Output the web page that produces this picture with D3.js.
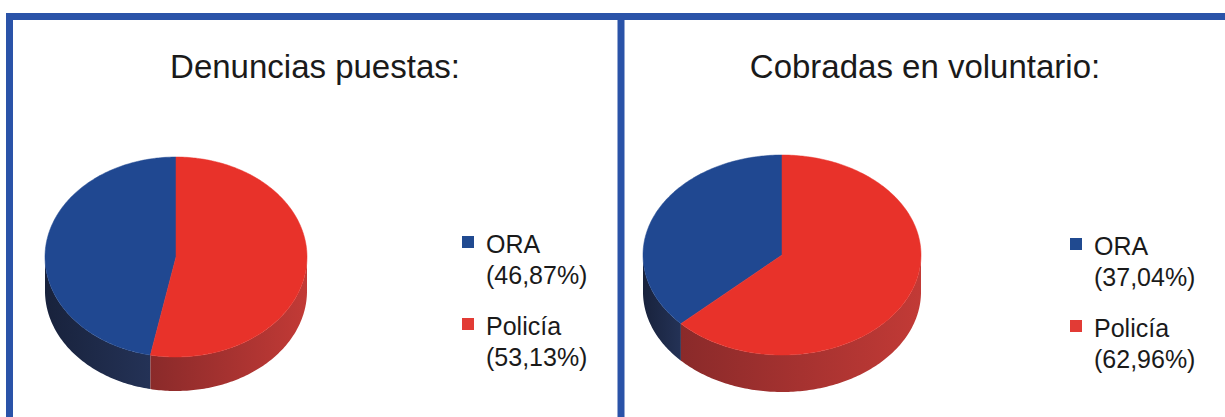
<!DOCTYPE html>
<html>
<head>
<meta charset="utf-8">
<script src="https://cdn.jsdelivr.net/npm/d3@7"></script>
<style>
  body { margin: 0; background: #fff; }
  svg { display: block; font-family: "Liberation Sans", Arial, sans-serif; }
</style>
</head>
<body>
<div id="container"></div>
<script>
// chart data
const categories = ['ORA', 'Policía'];
const titles = ['Denuncias puestas:', 'Cobradas en voluntario:'];
const denuncias = [46.87, 53.13];
const cobradas = [37.04, 62.96];
const valueLabels = [['46,87%', '53,13%'], ['37,04%', '62,96%']];

// page and pie layout
const w = 1225;
const h = 417;
const topColors = ['#204891', '#e8322a'];
const sideColors = [['#18223c', '#243256'], ['#8a2a2a', '#c23a36']];
const legendColors = ['#204a90', '#e23b35'];

const panels = [
  { values: denuncias, cx: 176, cy: 257, rx: 131, ry: 100, depth: 34, titleX: 315, legendX: 462, legendY: [236, 318] },
  { values: cobradas, cx: 782, cy: 255, rx: 139, ry: 100, depth: 37, titleX: 925, legendX: 1070, legendY: [238, 320] }
];

const svg = d3.select('#container')
  .append('svg')
  .attr('width', w)
  .attr('height', h);

// gradients for the sides
const defs = svg.append('defs');
sideColors.forEach((c, i) => {
  const g = defs.append('linearGradient')
    .attr('id', 'side' + i)
    .attr('x1', '0%').attr('x2', '100%').attr('y1', '0%').attr('y2', '0%');
  g.append('stop').attr('offset', '0%').attr('stop-color', c[0]);
  g.append('stop').attr('offset', '100%').attr('stop-color', c[1]);
});

// frame
svg.append('path')
  .attr('d', 'M9.5,430 L9.5,16.5 L1230,16.5 M621,430 L621,15')
  .attr('fill', 'none')
  .attr('stroke', '#2a53a8')
  .attr('stroke-width', 7);

const pie = d3.pie().sort(null).startAngle(0).endAngle(-2 * Math.PI);
const line = d3.line();
const TAU = 2 * Math.PI;

panels.forEach((p, pi) => {
  const g = svg.append('g');
  const pt = (a, dy = 0) => [p.cx + p.rx * Math.sin(a), p.cy - p.ry * Math.cos(a) + dy];
  const sample = (a0, a1, dy = 0) => {
    const n = Math.max(2, Math.ceil(Math.abs(a1 - a0) * 60));
    return d3.range(n + 1).map(k => pt(a0 + (a1 - a0) * k / n, dy));
  };

  const arcs = pie(p.values);

  // side walls (front half only)
  arcs.forEach((d, i) => {
    const span = Math.abs(d.endAngle - d.startAngle);
    const a0 = (Math.min(d.startAngle, d.endAngle) % TAU + TAU) % TAU;
    const a1 = a0 + span;
    [[a0, a1], [a0 - TAU, a1 - TAU], [a0 + TAU, a1 + TAU]].forEach(([s, e]) => {
      const s2 = Math.max(s, Math.PI / 2);
      const e2 = Math.min(e, 3 * Math.PI / 2);
      if (e2 <= s2) return;
      const pts = sample(s2, e2).concat(sample(e2, s2, p.depth));
      g.append('path')
        .attr('d', line(pts) + 'Z')
        .attr('fill', `url(#side${i})`);
    });
  });

  // top faces
  arcs.forEach((d, i) => {
    const pts = [[p.cx, p.cy]].concat(sample(d.startAngle, d.endAngle));
    g.append('path')
      .attr('d', line(pts) + 'Z')
      .attr('fill', topColors[i])
      .attr('stroke', topColors[i])
      .attr('stroke-width', 0.5);
  });

  // title
  svg.append('text')
    .attr('x', p.titleX)
    .attr('y', 78)
    .attr('text-anchor', 'middle')
    .attr('font-size', 33)
    .attr('fill', '#1a1a1a')
    .text(titles[pi]);

  // legend
  categories.forEach((c, i) => {
    const y = p.legendY[i];
    svg.append('rect')
      .attr('x', p.legendX)
      .attr('y', y)
      .attr('width', 12)
      .attr('height', 12)
      .attr('fill', legendColors[i]);
    const t = svg.append('text')
      .attr('font-size', 25)
      .attr('fill', '#1a1a1a');
    t.append('tspan').attr('x', p.legendX + 24).attr('y', y + 17).text(c);
    t.append('tspan').attr('x', p.legendX + 24).attr('y', y + 48).text(`(${valueLabels[pi][i]})`);
  });
});
</script>
</body>
</html>
